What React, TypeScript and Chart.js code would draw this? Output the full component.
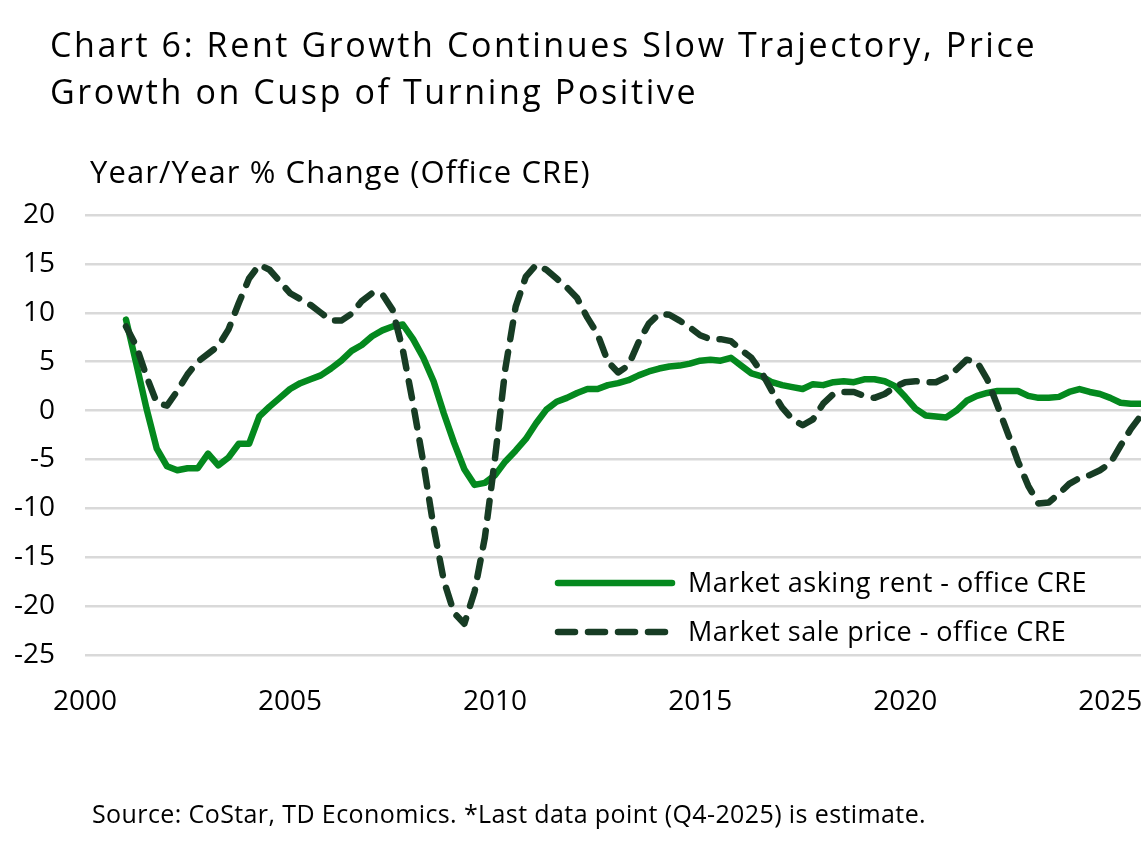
import React, { useEffect, useRef } from "react";
import { Chart, registerables } from "chart.js";

Chart.register(...registerables);

// Quarterly data, 2001 Q1 .. 2025 Q4 (last point is an estimate)
const firstYear = 2001;
const rentGrowth = [
  9.3, 4.8, 0.2, -3.9, -5.7, -6.1, -5.9, -5.9, -4.4, -5.6,
  -4.8, -3.4, -3.4, -0.6, 0.4, 1.3, 2.2, 2.8, 3.2, 3.6,
  4.3, 5.1, 6.1, 6.7, 7.6, 8.2, 8.6, 8.8, 7.3, 5.4,
  3.0, -0.3, -3.3, -6.0, -7.6, -7.4, -6.6, -5.2, -4.1, -2.9,
  -1.3, 0.1, 0.9, 1.3, 1.8, 2.2, 2.2, 2.6, 2.8, 3.1,
  3.6, 4.0, 4.3, 4.5, 4.6, 4.8, 5.1, 5.2, 5.1, 5.4,
  4.6, 3.8, 3.5, 2.9, 2.6, 2.4, 2.2, 2.7, 2.6, 2.9,
  3.0, 2.9, 3.2, 3.2, 3.0, 2.5, 1.4, 0.2, -0.5, -0.6,
  -0.7, 0.0, 1.0, 1.5, 1.8, 2.0, 2.0, 2.0, 1.5, 1.3,
  1.3, 1.4, 1.9, 2.2, 1.9, 1.7, 1.3, 0.8, 0.7, 0.7,
];
const priceGrowth = [
  8.6, 6.6, 3.5, 0.8, 0.5, 2.0, 3.7, 5.0, 5.8, 6.6,
  8.3, 11.0, 13.5, 14.9, 14.4, 13.2, 12.0, 11.4, 10.8, 10.0,
  9.2, 9.2, 9.9, 11.2, 12.0, 11.9, 10.3, 6.2, 0.7, -5.3,
  -11.9, -17.4, -20.7, -21.8, -18.5, -13.0, -4.8, 4.3, 10.6, 13.7,
  14.9, 14.4, 13.5, 12.6, 11.5, 9.5, 7.8, 5.0, 3.9, 4.6,
  7.0, 8.9, 9.9, 9.8, 9.2, 8.5, 7.7, 7.3, 7.3, 7.1,
  6.2, 5.4, 3.9, 2.0, 0.3, -0.9, -1.5, -0.9, 0.7, 1.7,
  1.9, 1.9, 1.5, 1.3, 1.7, 2.4, 2.9, 3.0, 2.9, 2.9,
  3.4, 4.2, 5.2, 5.0, 3.2, 0.5, -2.3, -5.2, -7.7, -9.5,
  -9.4, -8.5, -7.5, -6.9, -6.6, -6.1, -5.4, -3.6, -1.9, -0.5,
];
const xTicks = [2000, 2005, 2010, 2015, 2020, 2025];
const yTicks = [-25, -20, -15, -10, -5, 0, 5, 10, 15, 20];
const seriesLabels = ["Market asking rent - office CRE", "Market sale price - office CRE"];
const titleLines = ["Chart 6: Rent Growth Continues Slow Trajectory, Price", "Growth on Cusp of Turning Positive"];
const axisTitle = "Year/Year % Change (Office CRE)";
const sourceNote = "Source: CoStar, TD Economics. *Last data point (Q4-2025) is estimate.";

const GREEN = "#04891e";
const DARK = "#173c24";
const FONT = "'Open Sans', sans-serif";

const toPoints = (vals: number[]) => vals.map((v, i) => ({ x: firstYear + i / 4, y: v }));

const legendPlugin = {
  id: "insideLegend",
  afterDraw(chart: any) {
    const ctx = chart.ctx;
    const area = chart.chartArea;
    const x0 = area.left + 470;
    const rows = [area.top + 368, area.top + 417];
    chart.data.datasets.forEach((ds: any) => {
      const y = rows[ds.legendIndex];
      ctx.save();
      ctx.strokeStyle = ds.borderColor;
      ctx.lineWidth = ds.borderWidth;
      ctx.lineCap = "round";
      ctx.setLineDash(ds.borderDash || []);
      ctx.beginPath();
      ctx.moveTo(x0 + 3, y);
      ctx.lineTo(x0 + 117, y);
      ctx.stroke();
      ctx.setLineDash([]);
      ctx.fillStyle = "#000";
      ctx.font = `27px ${FONT}`;
      (ctx as any).letterSpacing = "0.5px";
      ctx.textBaseline = "middle";
      ctx.textAlign = "left";
      ctx.fillText(ds.label, x0 + 133, y + 1);
      ctx.restore();
    });
  },
};

export default function App() {
  const canvasRef = useRef<HTMLCanvasElement | null>(null);

  useEffect(() => {
    document.body.style.margin = "0";
    const canvas = canvasRef.current;
    if (!canvas) return;
    const chart = new Chart(canvas, {
      type: "line",
      data: {
        datasets: [
          {
            label: seriesLabels[0],
            legendIndex: 0,
            data: toPoints(rentGrowth),
            borderColor: GREEN,
            borderWidth: 6.5,
            pointRadius: 0,
            tension: 0,
            borderCapStyle: "round",
            borderJoinStyle: "round",
            order: 1,
            fill: false,
          } as any,
          {
            label: seriesLabels[1],
            legendIndex: 1,
            data: toPoints(priceGrowth),
            borderColor: DARK,
            borderWidth: 6.5,
            borderDash: [17, 13],
            pointRadius: 0,
            tension: 0,
            borderCapStyle: "round",
            borderJoinStyle: "round",
            order: 0,
            fill: false,
          } as any,
        ],
      },
      options: {
        animation: false,
        responsive: false,
        devicePixelRatio: 1,
        layout: { padding: { top: 215, left: 0, right: 0, bottom: 0 } },
        plugins: {
          legend: { display: false },
          tooltip: { enabled: false },
          title: { display: false },
        },
        scales: {
          x: {
            type: "linear",
            min: 2000,
            max: 2025.75,
            grid: { display: false },
            border: { display: false },
            afterBuildTicks: (scale: any) => {
              scale.ticks = xTicks.map((v) => ({ value: v }));
            },
            afterFit: (scale: any) => {
              scale.height = 193;
              scale.paddingLeft = 0;
              scale.paddingRight = 0;
            },
            ticks: {
              color: "#000",
              font: { family: FONT, size: 28 },
              padding: 22,
              maxRotation: 0,
              autoSkip: false,
              callback: (v: any) => String(v),
            },
          },
          y: {
            type: "linear",
            min: -25,
            max: 20,
            afterBuildTicks: (scale: any) => {
              scale.ticks = yTicks.map((v) => ({ value: v }));
            },
            afterFit: (scale: any) => {
              scale.width = 85;
              scale.paddingTop = 0;
              scale.paddingBottom = 0;
            },
            grid: { color: "#d9d9d9", lineWidth: 2.5, drawTicks: false },
            border: { display: false },
            ticks: {
              color: "#000",
              font: { family: FONT, size: 28 },
              padding: 30,
            },
          },
        },
      } as any,
      plugins: [legendPlugin],
    });
    return () => chart.destroy();
  }, []);

  const textBase: React.CSSProperties = {
    position: "absolute",
    fontFamily: FONT,
    color: "#000",
    whiteSpace: "nowrap",
    margin: 0,
  };

  return (
    <div style={{ position: "relative", width: 1141, height: 848, overflow: "hidden", background: "#fff" }}>
      <canvas ref={canvasRef} width={1141} height={848} style={{ position: "absolute", left: 0, top: 0 }} />
      <div style={{ ...textBase, left: 50, top: 21, fontSize: 34, lineHeight: "47px", letterSpacing: "2.6px" }}>
        {titleLines.map((t) => (
          <div key={t}>{t}</div>
        ))}
      </div>
      <div style={{ ...textBase, left: 90, top: 153, fontSize: 31, lineHeight: "36px", letterSpacing: "1.1px" }}>
        {axisTitle}
      </div>
      <div style={{ ...textBase, left: 92, top: 798, fontSize: 25, lineHeight: "30px", letterSpacing: "0.4px" }}>
        {sourceNote}
      </div>
    </div>
  );
}
